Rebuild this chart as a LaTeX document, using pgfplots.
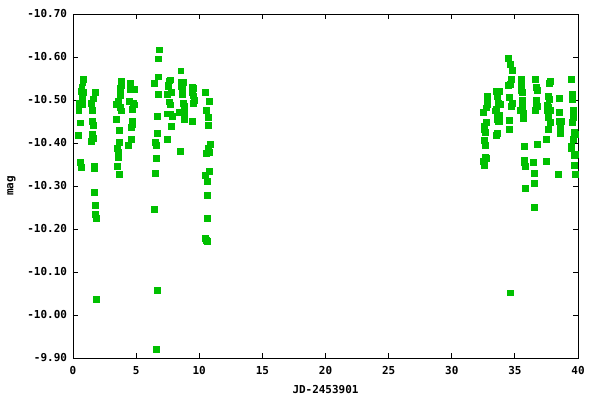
\documentclass[border=0pt]{standalone}
\usepackage{pgfplots}
\pgfplotsset{compat=1.18}
\usepackage{fontspec}
\setmainfont{DejaVu Sans Mono}
\definecolor{gpgreen}{RGB}{0,192,0}
\begin{document}
\begin{tikzpicture}
\begin{axis}[
  at={(0,0)}, anchor=south west,
  scale only axis, width=505bp, height=344bp,
  xmin=0, xmax=40, ymin=-10.70, ymax=-9.90,
  y dir=reverse,
  xtick={0,5,...,40},
  ytick={-10.7,-10.6,-10.5,-10.4,-10.3,-10.2,-10.1,-10.0,-9.9},
  /pgf/number format/assume math mode=true,
  yticklabel style={/pgf/number format/fixed, /pgf/number format/fixed zerofill, /pgf/number format/precision=2, xshift=-2.5bp},
  xticklabel style={/pgf/number format/fixed, /pgf/number format/precision=0, yshift=-4.5bp},
  ticklabel style={font=\fontsize{11}{13}\selectfont\bfseries},
  label style={font=\fontsize{11}{13}\selectfont\bfseries},
  xlabel={JD-2453901}, ylabel={mag},
  x label style={at={(axis description cs:0.5,-0.093)}, anchor=center},
  y label style={at={(axis description cs:-0.122,0.5)}, anchor=center, rotate=0},
  axis line style={line width=0.9bp, black},
  major tick style={line width=0.8bp, black},
  major tick length=5bp,
]
\addplot[only marks, mark=square*, mark size=2.9bp, color=gpgreen, mark options={draw=gpgreen, fill=gpgreen}] table {
x y
0.82 -10.549
0.77 -10.541
0.69 -10.531
0.61 -10.521
0.82 -10.519
0.74 -10.507
0.50 -10.493
0.77 -10.491
0.45 -10.477
0.58 -10.447
0.42 -10.419
0.58 -10.356
0.66 -10.344
1.77 -10.519
1.61 -10.503
1.45 -10.493
1.53 -10.477
1.53 -10.451
1.61 -10.442
1.53 -10.421
1.61 -10.412
1.45 -10.405
1.69 -10.346
1.69 -10.342
1.69 -10.286
1.77 -10.256
1.77 -10.235
1.85 -10.225
1.85 -10.036
3.83 -10.545
3.80 -10.535
3.75 -10.528
3.75 -10.512
3.59 -10.498
3.43 -10.491
3.75 -10.484
3.83 -10.475
3.43 -10.456
3.67 -10.430
3.67 -10.402
3.51 -10.388
3.59 -10.379
3.59 -10.367
3.51 -10.346
3.67 -10.328
4.54 -10.540
4.54 -10.526
4.89 -10.526
4.46 -10.498
4.78 -10.493
4.89 -10.489
4.70 -10.479
4.70 -10.451
4.70 -10.444
4.62 -10.437
4.62 -10.409
4.38 -10.395
6.84 -10.617
6.76 -10.596
6.76 -10.554
6.44 -10.540
6.76 -10.514
6.68 -10.463
6.68 -10.423
6.52 -10.402
6.60 -10.395
6.60 -10.365
6.52 -10.330
6.44 -10.246
6.68 -10.057
6.60 -9.920
7.71 -10.547
7.63 -10.545
7.55 -10.535
7.55 -10.531
7.79 -10.519
7.47 -10.514
7.63 -10.496
7.71 -10.489
7.47 -10.468
7.71 -10.468
7.87 -10.463
7.79 -10.440
7.47 -10.409
8.53 -10.568
8.58 -10.542
8.74 -10.542
8.58 -10.531
8.66 -10.526
8.66 -10.514
8.74 -10.493
8.82 -10.486
8.82 -10.470
8.42 -10.472
8.82 -10.456
8.50 -10.381
9.45 -10.531
9.53 -10.528
9.45 -10.517
9.53 -10.510
9.61 -10.500
9.53 -10.493
9.45 -10.451
10.48 -10.519
10.80 -10.498
10.56 -10.477
10.72 -10.460
10.72 -10.442
10.88 -10.398
10.72 -10.388
10.80 -10.379
10.56 -10.377
10.80 -10.335
10.48 -10.325
10.64 -10.311
10.64 -10.279
10.64 -10.225
10.48 -10.179
10.56 -10.174
10.64 -10.172
32.82 -10.508
32.82 -10.499
32.82 -10.489
32.74 -10.482
32.50 -10.472
32.74 -10.448
32.58 -10.439
32.58 -10.432
32.66 -10.425
32.58 -10.406
32.66 -10.395
32.66 -10.367
32.74 -10.364
32.50 -10.357
32.58 -10.348
33.53 -10.520
33.77 -10.520
33.61 -10.508
33.69 -10.493
33.85 -10.490
33.53 -10.479
33.45 -10.475
33.77 -10.465
33.61 -10.460
33.61 -10.454
33.69 -10.451
33.77 -10.451
33.61 -10.423
33.53 -10.418
34.48 -10.597
34.64 -10.583
34.80 -10.569
34.72 -10.548
34.64 -10.537
34.48 -10.534
34.56 -10.507
34.80 -10.493
34.72 -10.486
34.56 -10.453
34.56 -10.432
34.64 -10.052
35.51 -10.548
35.51 -10.539
35.51 -10.523
35.59 -10.518
35.59 -10.500
35.59 -10.486
35.43 -10.476
35.67 -10.469
35.67 -10.458
35.75 -10.392
35.75 -10.360
35.75 -10.355
35.83 -10.346
35.83 -10.294
36.62 -10.548
36.70 -10.530
36.78 -10.523
36.70 -10.500
36.70 -10.493
36.78 -10.486
36.62 -10.476
36.78 -10.397
36.46 -10.355
36.54 -10.329
36.54 -10.306
36.54 -10.250
37.81 -10.544
37.73 -10.539
37.65 -10.509
37.73 -10.502
37.57 -10.488
37.65 -10.483
37.57 -10.476
37.81 -10.476
37.65 -10.460
37.81 -10.448
37.65 -10.432
37.49 -10.409
37.49 -10.357
38.52 -10.504
38.52 -10.472
38.52 -10.451
38.68 -10.451
38.60 -10.434
38.60 -10.423
38.44 -10.327
39.47 -10.548
39.55 -10.514
39.55 -10.502
39.63 -10.476
39.63 -10.460
39.55 -10.448
39.71 -10.425
39.79 -10.420
39.63 -10.409
39.47 -10.392
39.47 -10.388
39.79 -10.374
39.71 -10.371
39.71 -10.348
39.79 -10.327
};
\end{axis}
\pgfresetboundingbox
\path[use as bounding box] (-73bp,-42bp) rectangle (527bp,358bp);
\end{tikzpicture}
\end{document}
